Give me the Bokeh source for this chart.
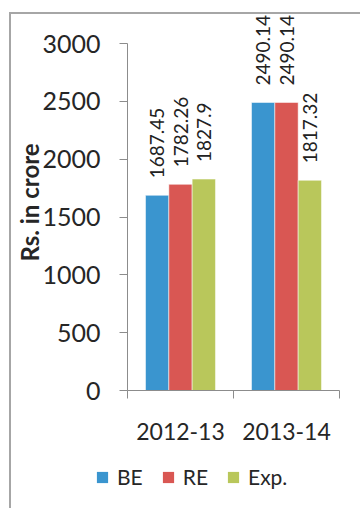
from bokeh.plotting import figure
from bokeh.layouts import column
from bokeh.models import (ColumnDataSource, Range1d, LinearAxis,
                          FixedTicker, Legend, LegendItem)
from bokeh.transform import dodge
from bokeh.core.properties import value
from bokeh.embed import file_html
from bokeh.resources import INLINE
import math

years = ["2012-13", "2013-14"]
be = [1687.45, 2490.14]
re_ = [1782.26, 2490.14]
exp_ = [1827.9, 1817.32]
series_names = ["BE", "RE", "Exp."]
colors = ["#3A95CF", "#D95753", "#B9C75B"]
y_ticks = [0, 500, 1000, 1500, 2000, 2500, 3000]

FONT = "Lato"
BORDER = "2px solid #a6a6a6"

centers = [i + 0.5 for i in range(len(years))]
src = ColumnDataSource(dict(
    xc=centers, be=be, re=re_, exp=exp_,
    be_lab=[f"{v:g}" for v in be],
    re_lab=[f"{v:g}" for v in re_],
    exp_lab=[f"{v:g}" for v in exp_],
))

# frame: top at y=14, bottom at y=390 -> axis maximum (3000) lands at y=43
y_max = y_ticks[-1]
frame_top, axis_top, axis_bottom = 14, 43, 390
y_end = y_max * (axis_bottom - frame_top) / (axis_bottom - axis_top)

p = figure(width=351, height=446, x_range=Range1d(0, len(years)),
           y_range=Range1d(0, y_end), x_axis_location=None,
           output_backend="svg", toolbar_location=None,
           min_border_left=116, min_border_right=23, min_border_top=0, min_border_bottom=70,
           margin=(12, 0, 0, 9))
p.styles = {"border-left": BORDER, "border-top": BORDER}
p.outline_line_color = None
p.xgrid.grid_line_color = None
p.ygrid.grid_line_color = None

cols = ["be", "re", "exp"]
labs = ["be_lab", "re_lab", "exp_lab"]
offsets = [-0.22, 0.0, 0.22]
for c, lab, off, col in zip(cols, labs, offsets, colors):
    p.vbar(x=dodge("xc", off), top=c, width=0.22, bottom=0,
           source=src, fill_color=col, line_color="white", line_alpha=0.5, line_width=1)
    p.text(x=dodge("xc", off), y=c, text=lab, source=src,
           angle=math.pi / 2, text_align="left", text_baseline="middle",
           y_offset=-17, text_font=value(FONT), text_font_size="19px", text_color="#222222")

# y axis
ya = p.yaxis[0]
ya.ticker = FixedTicker(ticks=y_ticks)
ya.bounds = (0, y_max)
ya.axis_line_color = "#8c8c8c"
ya.major_tick_line_color = "#8c8c8c"
ya.major_tick_out = 8
ya.major_tick_in = 0
ya.minor_tick_line_color = None
ya.major_label_text_font = FONT
ya.major_label_text_font_size = "25px"
ya.major_label_text_color = "#262626"
ya.major_label_standoff = 19
ya.axis_label = "Rs. in crore"
ya.axis_label_text_font = FONT
ya.axis_label_text_font_size = "24px"
ya.axis_label_text_font_style = "bold"
ya.axis_label_text_color = "#262626"
ya.axis_label_standoff = -5

# category boundary ticks
tick_axis = LinearAxis(ticker=FixedTicker(ticks=list(range(len(years) + 1))),
                       major_label_text_font_size="0px", major_label_standoff=0,
                       axis_line_color="#8c8c8c", major_tick_line_color="#8c8c8c",
                       major_tick_out=8, major_tick_in=0, minor_tick_line_color=None)
p.add_layout(tick_axis, "below")

cat_axis = LinearAxis(ticker=FixedTicker(ticks=centers),
                      major_label_overrides={c: y for c, y in zip(centers, years)},
                      axis_line_color=None, major_tick_line_color=None, minor_tick_line_color=None,
                      major_label_text_font=FONT, major_label_text_font_size="23px",
                      major_label_text_color="#262626", major_label_standoff=18)
p.add_layout(cat_axis, "below")

# legend strip below the chart
leg = figure(width=351, height=50, x_range=Range1d(0, 1), y_range=Range1d(0, 1),
             x_axis_location=None, y_axis_location=None,
             output_backend="svg", toolbar_location=None,
             min_border_left=84, min_border_top=6, min_border_right=0, min_border_bottom=0,
             margin=(0, 0, 0, 9))
for fig in (p, leg):
    try:
        fig.frame_align = False
    except Exception:
        pass
leg.styles = {"border-left": BORDER}
leg.outline_line_color = None
leg.xgrid.grid_line_color = None
leg.ygrid.grid_line_color = None
# legend-only renderers: a zero-height bar outside the visible range
key_src = ColumnDataSource(dict(x=[-1.0], top=[0.0]))
items = []
for name, col in zip(series_names, colors):
    r = leg.vbar(x="x", top="top", width=0.1, source=key_src, fill_color=col, line_color=None)
    items.append(LegendItem(label=name, renderers=[r]))

legend = Legend(items=items, orientation="horizontal", location="top_left",
                glyph_width=14, glyph_height=14, label_standoff=8, spacing=18,
                padding=0, margin=0, border_line_color=None, background_fill_alpha=0,
                label_text_font=FONT, label_text_font_size="21px", label_text_color="#262626")
leg.add_layout(legend, "center")

layout = column(p, leg, spacing=0)
open("out.html", "w").write(file_html(layout, INLINE))
